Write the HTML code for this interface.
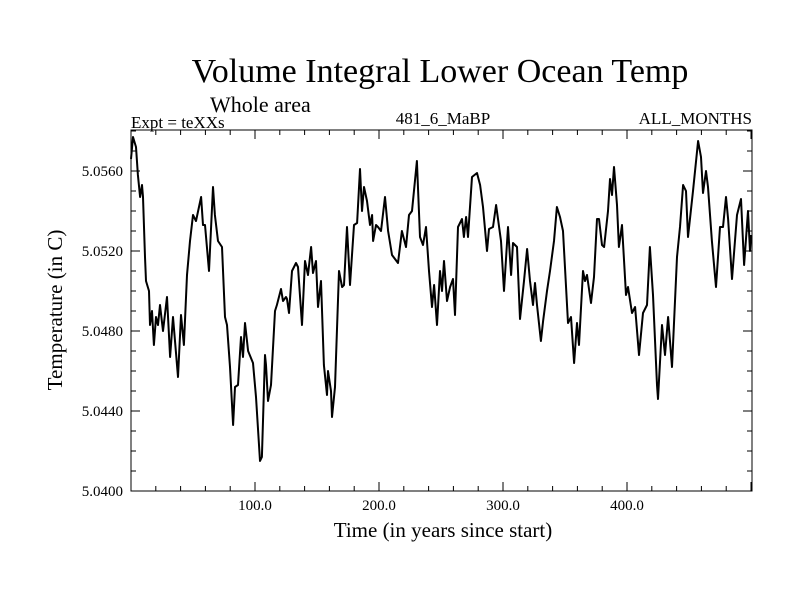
<!DOCTYPE html>
<html><head><meta charset="utf-8"><style>
body{margin:0;background:#fff}
svg text{font-family:"Liberation Serif",serif;fill:#000}
</style></head><body>
<svg id="c" width="800" height="600">
<text x="440" y="82" font-size="34" text-anchor="middle">Volume Integral Lower Ocean Temp</text>
<text x="210" y="112" font-size="22">Whole area</text>
<text x="131" y="128" font-size="17">Expt = teXXs</text>
<text x="443" y="124" font-size="17" text-anchor="middle">481_6_MaBP</text>
<text x="752" y="124" font-size="17" text-anchor="end">ALL_MONTHS</text>
<text x="443" y="537" font-size="21" text-anchor="middle">Time (in years since start)</text>
<text transform="translate(62,310) rotate(-90)" font-size="21" text-anchor="middle">Temperature (in C)</text>
<g id="ax"></g>
<path id="ln" fill="none" stroke="#000" stroke-width="2" stroke-linejoin="round"/>
<rect x="131" y="130" width="621" height="361" fill="none" stroke="#000" stroke-width="1"/>
</svg>
<script>
const years=[0,1.6,4.0,5.6,7.3,8.9,9.7,11.3,12.1,14.5,15.3,16.9,18.5,20.2,21.8,23.4,25.8,29.0,31.5,33.9,35.5,37.9,40.3,42.7,45.2,47.6,50.0,52.4,56.5,58.1,59.7,62.9,66.1,67.7,70.2,73.4,75.8,77.4,79.8,82.3,83.9,86.3,88.7,90.3,91.9,94.4,98.4,100.8,104.0,105.6,108.1,108.9,110.5,112.9,116.1,117.7,121.0,122.6,125.0,125.8,127.4,129.8,133.1,134.7,137.9,140.3,142.7,145.2,146.8,149.2,150.8,153.2,155.6,158.1,158.9,161.3,162.1,164.5,167.7,170.2,171.8,174.2,176.6,179.8,182.3,184.7,186.3,187.9,190.3,192.7,194.4,195.2,197.6,199.2,201.6,204.8,207.3,210.5,215.3,218.5,221.8,224.2,226.6,230.6,233.1,235.5,237.9,240.3,242.7,244.4,246.8,249.2,250.8,252.4,254.8,257.3,259.7,261.3,263.7,266.9,268.5,270.2,271.8,275.0,279.0,281.5,283.9,287.1,288.7,291.9,294.4,298.4,300.8,304.0,306.5,308.1,311.3,313.7,316.9,319.4,321.8,324.2,325.8,327.4,330.6,332.3,335.5,337.9,341.1,343.5,346.0,348.4,352.4,354.8,357.3,359.7,361.3,364.5,366.1,367.7,371.0,373.4,375.8,377.4,379.8,381.5,384.7,386.3,387.9,389.5,391.9,393.5,396.0,399.2,400.8,404.0,406.5,409.7,412.9,416.1,418.5,421.0,424.2,425.0,428.2,430.6,433.1,436.3,440.3,442.7,445.2,447.6,449.2,453.2,457.3,459.7,461.3,463.7,465.3,468.5,471.8,475.0,477.4,479.8,481.5,484.7,488.7,491.9,494.4,497.6,499.2,500];
const temps=[5.0566,5.0577,5.0572,5.0558,5.0547,5.0553,5.0547,5.0517,5.0505,5.0500,5.0483,5.0490,5.0473,5.0487,5.0483,5.0493,5.0480,5.0497,5.0467,5.0487,5.0475,5.0457,5.0488,5.0473,5.0508,5.0525,5.0538,5.0535,5.0547,5.0533,5.0533,5.0510,5.0552,5.0538,5.0525,5.0522,5.0487,5.0483,5.0462,5.0433,5.0452,5.0453,5.0477,5.0467,5.0484,5.0470,5.0464,5.0447,5.0415,5.0417,5.0468,5.0463,5.0445,5.0453,5.0490,5.0493,5.0501,5.0495,5.0497,5.0496,5.0489,5.0510,5.0514,5.0512,5.0483,5.0515,5.0508,5.0522,5.0509,5.0515,5.0492,5.0505,5.0463,5.0448,5.0460,5.0450,5.0437,5.0452,5.0510,5.0502,5.0503,5.0532,5.0503,5.0533,5.0534,5.0561,5.0540,5.0552,5.0545,5.0533,5.0538,5.0525,5.0533,5.0532,5.0530,5.0547,5.0530,5.0518,5.0514,5.0530,5.0522,5.0538,5.0540,5.0565,5.0527,5.0523,5.0532,5.0510,5.0492,5.0503,5.0483,5.0510,5.0500,5.0515,5.0495,5.0502,5.0506,5.0488,5.0532,5.0536,5.0527,5.0537,5.0527,5.0557,5.0559,5.0553,5.0542,5.0520,5.0531,5.0532,5.0543,5.0525,5.0500,5.0532,5.0508,5.0524,5.0522,5.0486,5.0505,5.0521,5.0505,5.0493,5.0504,5.0493,5.0475,5.0485,5.0500,5.0510,5.0525,5.0542,5.0537,5.0530,5.0484,5.0487,5.0464,5.0484,5.0473,5.0510,5.0505,5.0508,5.0494,5.0507,5.0536,5.0536,5.0523,5.0522,5.0540,5.0556,5.0548,5.0562,5.0543,5.0522,5.0533,5.0498,5.0502,5.0489,5.0492,5.0468,5.0489,5.0493,5.0522,5.0498,5.0453,5.0446,5.0483,5.0468,5.0487,5.0462,5.0517,5.0532,5.0553,5.0550,5.0527,5.0550,5.0575,5.0567,5.0549,5.0560,5.0552,5.0525,5.0502,5.0532,5.0532,5.0547,5.0536,5.0506,5.0538,5.0546,5.0513,5.0540,5.0520,5.0528];
const yTickLabels=["5.0400","5.0440","5.0480","5.0520","5.0560"];
const xTickLabels=["100.0","200.0","300.0","400.0"];
const X0=131,X1=752,Y0=491,Y1=130,XMIN=0,XMAX=500.8,YMIN=5.04,YMAX=5.05805;
const sx=v=>X0+(v-XMIN)/(XMAX-XMIN)*(X1-X0);
const sy=v=>Y0-(v-YMIN)/(YMAX-YMIN)*(Y0-Y1);
const NS="http://www.w3.org/2000/svg";
const ax=document.getElementById('ax');
let tp="";
for(let k=0;k*0.001+YMIN<=YMAX+1e-9;k++){const y=sy(YMIN+k*0.001);const L=(k%4===0)?9:5;tp+=`M${X0},${y}h${L}M${X1},${y}h${-L}`;}
for(let v=20;v<=XMAX;v+=20){const x=sx(v);const L=(v%100===0)?9:5;tp+=`M${x},${Y0}v${-L}M${x},${Y1}v${L}`;}
const tk=document.createElementNS(NS,'path');
tk.setAttribute('d',tp);tk.setAttribute('stroke','#000');tk.setAttribute('fill','none');


ax.appendChild(tk);
yTickLabels.forEach(s=>{const t=document.createElementNS(NS,'text');
t.setAttribute('x',123);t.setAttribute('y',sy(parseFloat(s))+5);t.setAttribute('font-size','15');t.setAttribute('text-anchor','end');t.textContent=s;


ax.appendChild(t);});
xTickLabels.forEach(s=>{const t=document.createElementNS(NS,'text');
t.setAttribute('x',sx(parseFloat(s)));t.setAttribute('y',510);t.setAttribute('font-size','15');t.setAttribute('text-anchor','middle');t.textContent=s;


ax.appendChild(t);});
document.getElementById('ln').setAttribute('d',years.map((v,i)=>(i?'L':'M')+sx(v).toFixed(1)+','+sy(temps[i]).toFixed(1)).join(''));
</script>
</body></html>
